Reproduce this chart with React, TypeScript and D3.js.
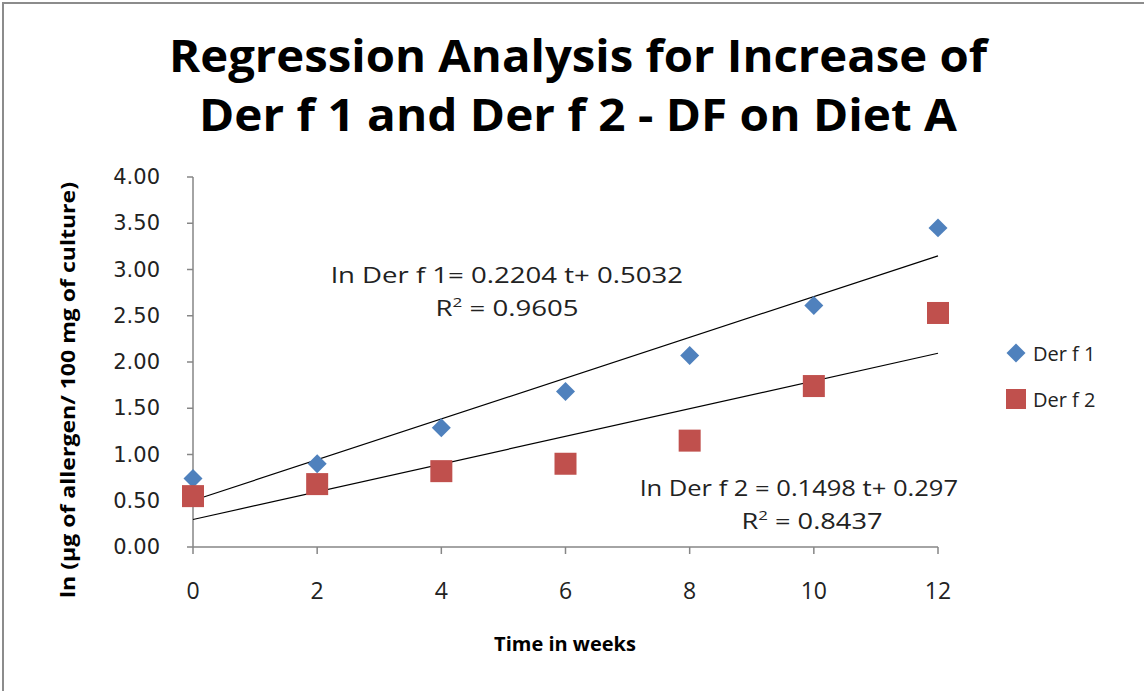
import React from "react";
import * as d3 from "d3";

const weeks = [0, 2, 4, 6, 8, 10, 12];
const derF1 = [0.74, 0.9, 1.29, 1.68, 2.07, 2.61, 3.45];
const derF2 = [0.55, 0.68, 0.82, 0.9, 1.15, 1.74, 2.53];
const yTicks = [0, 0.5, 1, 1.5, 2, 2.5, 3, 3.5, 4];
const fit1 = { slope: 0.2204, intercept: 0.5032 };
const fit2 = { slope: 0.1498, intercept: 0.297 };

const W = 1144;
const H = 691;

export default function App() {
  const x = d3.scaleLinear().domain([0, 12]).range([193, 938]);
  const y = d3.scaleLinear().domain([0, 4]).range([547, 177]);
  const axisColor = "#868686";
  const blue = "#4F81BD";
  const red = "#C0504D";
  const font = "'Open Sans', sans-serif";

  const trend = (f: { slope: number; intercept: number }) =>
    d3.line<number>()
      .x((t) => x(t))
      .y((t) => y(f.slope * t + f.intercept))([0, 12]);

  const diamond = d3.symbol().type(d3.symbolDiamond2).size(230)();

  return (
    <svg
      width={W}
      height={H}
      style={{ position: "absolute", left: 0, top: 0, background: "#fff" }}
    >
      <rect x={3} y={3} width={W + 20} height={H + 20} fill="#fff" stroke="#8c8c8c" strokeWidth={2} />

      <g fontFamily={font} fontWeight="bold" fontSize={44} textAnchor="middle" fill="#000">
        <text x={578} y={72} textLength={818} lengthAdjust="spacingAndGlyphs">
          Regression  Analysis for Increase of
        </text>
        <text x={578} y={131} textLength={758} lengthAdjust="spacingAndGlyphs">
          Der f 1 and Der f 2 - DF on Diet A
        </text>
      </g>

      {/* axes */}
      <line x1={x(0)} x2={x(0)} y1={y(4)} y2={y(0)} stroke={axisColor} strokeWidth={1.5} />
      <line x1={x(0)} x2={x(12)} y1={y(0)} y2={y(0)} stroke={axisColor} strokeWidth={1.5} />
      {yTicks.map((v) => (
        <g key={v}>
          <line x1={x(0) - 6} x2={x(0)} y1={y(v)} y2={y(v)} stroke={axisColor} strokeWidth={1.5} />
          <text x={160} y={y(v) + 7} textAnchor="end" fontFamily="'DejaVu Sans', sans-serif" fontSize={21} fill="#222">
            {v.toFixed(2)}
          </text>
        </g>
      ))}
      {weeks.map((w) => (
        <g key={w}>
          <line x1={x(w)} x2={x(w)} y1={y(0)} y2={y(0) + 7} stroke={axisColor} strokeWidth={1.5} />
          <text x={x(w)} y={y(0) + 52} textAnchor="middle" fontFamily={font} fontSize={23} fill="#222">
            {w}
          </text>
        </g>
      ))}

      <text
        transform={`translate(75,390) rotate(-90)`}
        textAnchor="middle"
        fontFamily={font}
        fontWeight="bold"
        fontSize={20}
        fill="#000"
        textLength={416}
        lengthAdjust="spacingAndGlyphs"
      >
        ln (µg of allergen/ 100 mg of culture)
      </text>
      <text x={565} y={651} textAnchor="middle" fontFamily={font} fontWeight="bold" fontSize={20} fill="#000">
        Time in weeks
      </text>

      {/* trendlines */}
      <path d={trend(fit1) || ""} stroke="#000" strokeWidth={1.2} fill="none" />
      <path d={trend(fit2) || ""} stroke="#000" strokeWidth={1.2} fill="none" />

      {/* markers */}
      {weeks.map((w, i) => (
        <path key={"a" + w} d={diamond || ""} transform={`translate(${x(w)},${y(derF1[i])})`} fill={blue} />
      ))}
      {weeks.map((w, i) => (
        <rect key={"b" + w} x={x(w) - 11} y={y(derF2[i]) - 11} width={22} height={22} fill={red} />
      ))}

      {/* equations */}
      <g fontFamily={font} fill="#222" textAnchor="middle">
        <text x={507} y={283} fontSize={21} textLength={352} lengthAdjust="spacingAndGlyphs">
          ln Der f 1= 0.2204 t+ 0.5032
        </text>
        <text x={507} y={316} fontSize={21} textLength={143} lengthAdjust="spacingAndGlyphs">
          R<tspan dy={-9} fontSize={13}>2</tspan>
          <tspan dy={9} fontSize={21}> = 0.9605</tspan>
        </text>
        <text x={799} y={496} fontSize={21} textLength={318} lengthAdjust="spacingAndGlyphs">
          ln Der f 2 = 0.1498 t+ 0.297
        </text>
        <text x={812} y={529} fontSize={21} textLength={141} lengthAdjust="spacingAndGlyphs">
          R<tspan dy={-9} fontSize={13}>2</tspan>
          <tspan dy={9} fontSize={21}> = 0.8437</tspan>
        </text>
      </g>

      {/* legend */}
      <path d={diamond || ""} transform="translate(1016,353)" fill={blue} />
      <text x={1033} y={361} fontFamily={font} fontSize={20} fill="#222">Der f 1</text>
      <rect x={1006} y={389} width={20} height={20} fill={red} />
      <text x={1033} y={407} fontFamily={font} fontSize={20} fill="#222">Der f 2</text>
    </svg>
  );
}
